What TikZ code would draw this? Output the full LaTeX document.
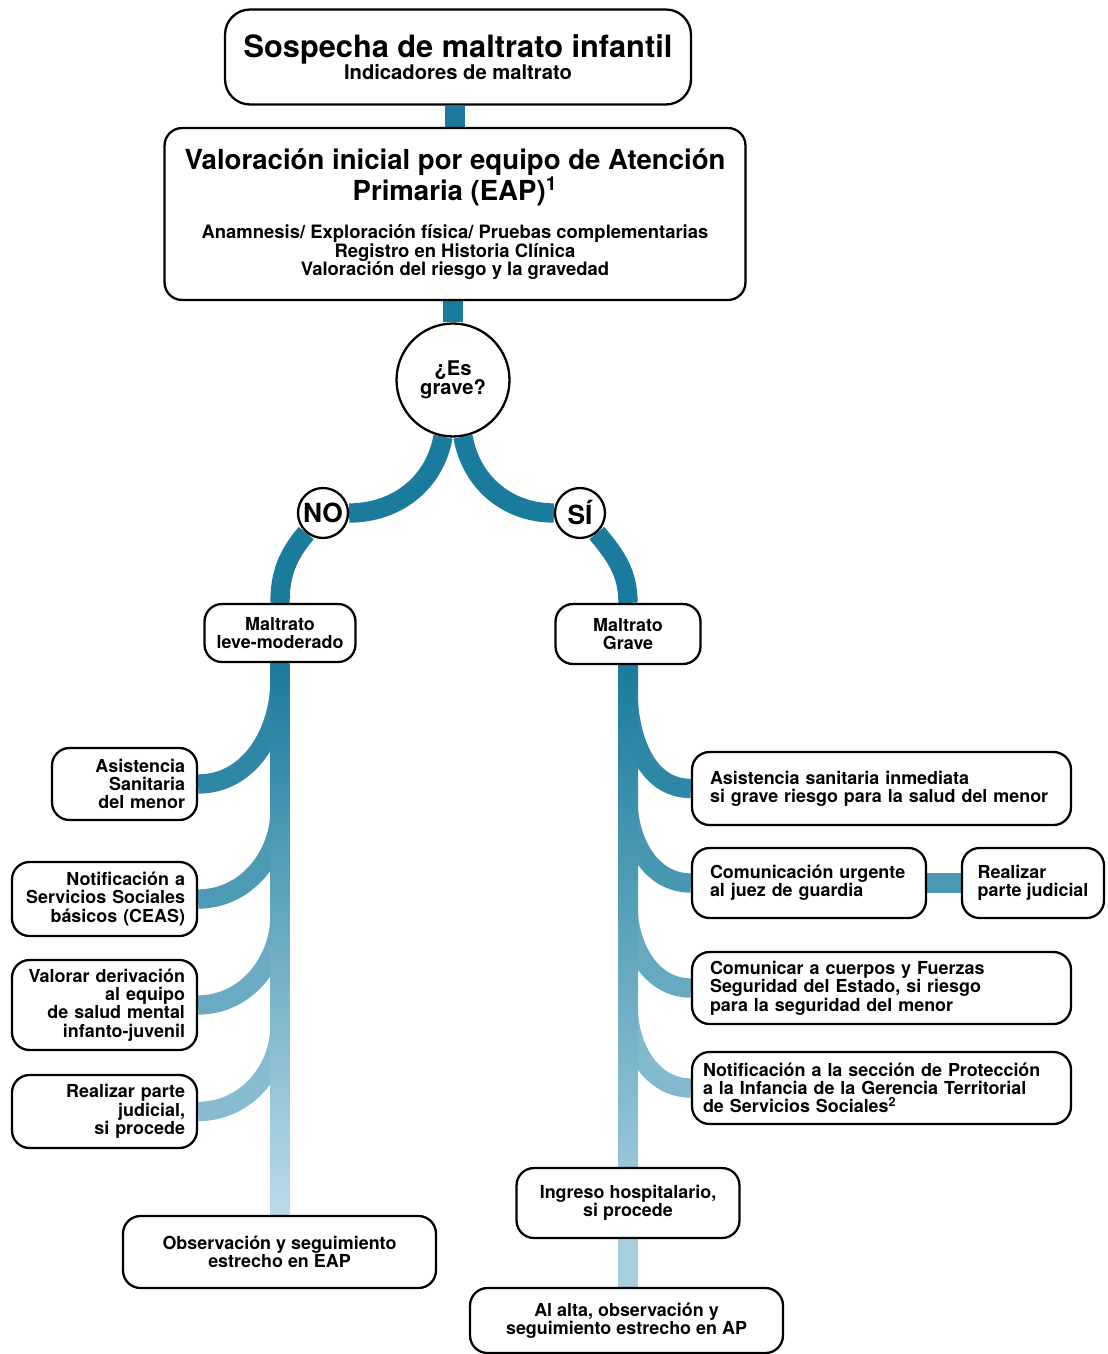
\documentclass[tikz,border=0pt]{standalone}
\usepackage{fontspec}
\setmainfont{TeX Gyre Heros}
\usetikzlibrary{calc,backgrounds}

\definecolor{tealdark}{RGB}{26,123,156}
\definecolor{teallight}{RGB}{186,219,233}

\begin{document}
\begin{tikzpicture}[x=0.02cm,y=0.02cm,
    box/.style={draw,line width=1.3pt,rounded corners=0.35cm,fill=white,inner ysep=0pt,inner xsep=0.24cm,
      font=\bfseries\fontsize{10.2}{10.4}\selectfont},
    cbox/.style={box,align=center},
    lbox/.style={box,align=right,text width=3.22cm},
    rbox/.style={box,align=left,inner xsep=0.36cm,text width=6.86cm},
    ask/.style={draw,circle,line width=1.3pt,fill=white,inner sep=0pt},
    bar/.style={line width=11pt,draw=#1},
    bar/.default=tealdark]
  \useasboundingbox (0,0) rectangle (1107,-1354);

  % cabecera
  \node[cbox,rounded corners=0.5cm,minimum width=9.32cm,minimum height=1.9cm] (sosp) at (458,-57)
    {\fontsize{17.5}{18}\selectfont Sospecha de maltrato infantil\\[-1pt]
     \fontsize{11.5}{12}\selectfont Indicadores de maltrato};
  \node[cbox,minimum width=11.62cm,minimum height=3.44cm] (valor) at (455,-214)
    {\fontsize{15.7}{16}\selectfont Valoración inicial por equipo de Atención\\
     \fontsize{15.7}{16}\selectfont Primaria (EAP)\textsuperscript{1}\\[10pt]
     \fontsize{10.5}{11}\selectfont Anamnesis/ Exploración física/ Pruebas complementarias\\
     \fontsize{10.5}{11}\selectfont Registro en Historia Clínica\\
     \fontsize{10.5}{11}\selectfont Valoración del riesgo y la gravedad};

  % pregunta
  \node[ask,minimum size=2.26cm,align=center,font=\bfseries\fontsize{11.5}{11}\selectfont] (grave) at (453,-380) {¿Es\\grave?};
  \node[ask,minimum size=1cm,font=\bfseries\fontsize{15}{15}\selectfont] (no) at (323,-513) {NO};
  \node[ask,minimum size=1cm,font=\bfseries\fontsize{15}{15}\selectfont] (si) at (580,-513) {SÍ};

  % rama NO
  \node[cbox,minimum width=2.9cm,minimum height=1.16cm] (leve) at (280,-633) {Maltrato\\leve-moderado};
  \node[lbox,text width=2.42cm,minimum height=1.44cm] (asis) at (124.5,-784) {Asistencia\\Sanitaria\\del menor};
  \node[lbox,minimum height=1.48cm] (ceas) at (104.5,-899) {Notificación a\\Servicios Sociales\\básicos (CEAS)};
  \node[lbox,minimum height=1.8cm] (ment) at (104.5,-1005) {Valorar derivación\\al equipo\\de salud mental\\infanto-juvenil};
  \node[lbox,minimum height=1.46cm] (judL) at (104.5,-1111.5) {Realizar parte\\judicial,\\si procede};
  \node[cbox,minimum width=6.26cm,minimum height=1.44cm] (obsL) at (279.5,-1252) {Observación y seguimiento\\estrecho en EAP};

  % rama SI
  \node[cbox,minimum width=2.9cm,minimum height=1.2cm] (grav) at (628,-634) {Maltrato\\Grave};
  \node[rbox,minimum height=1.46cm] (asisR) at (881.5,-788.5) {Asistencia sanitaria inmediata\\si grave riesgo para la salud del menor};
  \node[rbox,text width=3.96cm,minimum height=1.4cm] (juez) at (809,-883) {Comunicación urgente\\al juez de guardia};
  \node[box,align=left,minimum width=2.84cm,minimum height=1.4cm] (parte) at (1033,-883) {Realizar\\parte judicial};
  \node[rbox,minimum height=1.44cm] (fuerz) at (881.5,-988) {Comunicar a cuerpos y Fuerzas\\Seguridad del Estado, si riesgo\\para la seguridad del menor};
  \node[rbox,inner xsep=0.22cm,text width=7.14cm,minimum height=1.44cm] (prot) at (881.5,-1088) {Notificación a la sección de Protección\\a la Infancia de la Gerencia Territorial\\de Servicios Sociales\textsuperscript{2}};
  \node[cbox,minimum width=4.46cm,minimum height=1.4cm] (ingr) at (628,-1203) {Ingreso hospitalario,\\si procede};
  \node[cbox,minimum width=6.26cm,minimum height=1.3cm] (alta) at (626.5,-1320.5) {Al alta, observación y\\seguimiento estrecho en AP};

  \coordinate (l1) at (280,-680);
  \coordinate (l2) at (280,-810);
  \coordinate (l3) at (280,-915);
  \coordinate (l4) at (280,-1025);
  \coordinate (r1) at (628,-690);
  \coordinate (r2) at (628,-800);
  \coordinate (r3) at (628,-905);
  \coordinate (r4) at (628,-1005);

  \begin{scope}[on background layer]
    % tronco
    \draw[bar] (valor.north) -- (valor.north |- sosp.south);
    \draw[bar] (grave.north) -- (grave.north |- valor.south);
    \draw[bar] (grave.-100) to[out=-100,in=0] (no.east);
    \draw[bar] (grave.-80) to[out=-80,in=180] (si.west);
    \draw[bar] (no.-130) to[out=-130,in=90] (leve.north);
    \draw[bar] (si.-50) to[out=-50,in=90] (grav.north);
    % ramas izquierda
    \draw[bar=tealdark!88!teallight] (l1) to[out=-90,in=0] (asis.east);
    \draw[bar=tealdark!68!teallight] (l2) to[out=-90,in=0] (ceas.east);
    \draw[bar=tealdark!50!teallight] (l3) to[out=-90,in=0] (ment.east);
    \draw[bar=tealdark!32!teallight] (l4) to[out=-90,in=0] (judL.east);
    \shade[top color=tealdark,middle color=tealdark!58!teallight,bottom color=teallight]
      ($(leve.south)+(-10,0)$) rectangle ($(obsL.north)+(10,0)$);
    % ramas derecha
    \draw[bar=tealdark!88!teallight] (r1) to[out=-90,in=180] (asisR.west);
    \draw[bar=tealdark!72!teallight] (r2) to[out=-90,in=180] (juez.west);
    \draw[bar=tealdark!52!teallight] (r3) to[out=-90,in=180] (fuerz.west);
    \draw[bar=tealdark!35!teallight] (r4) to[out=-90,in=180] (prot.west);
    \shade[top color=tealdark,middle color=tealdark!62!teallight,bottom color=tealdark!22!teallight]
      ($(grav.south)+(-10,0)$) rectangle ($(ingr.north)+(10,0)$);
    \draw[bar=tealdark!70!teallight] (juez.east) -- (parte.west);
    \draw[bar=tealdark!12!teallight] (ingr.south) -- (ingr.south |- alta.north);
  \end{scope}
\end{tikzpicture}
\end{document}
